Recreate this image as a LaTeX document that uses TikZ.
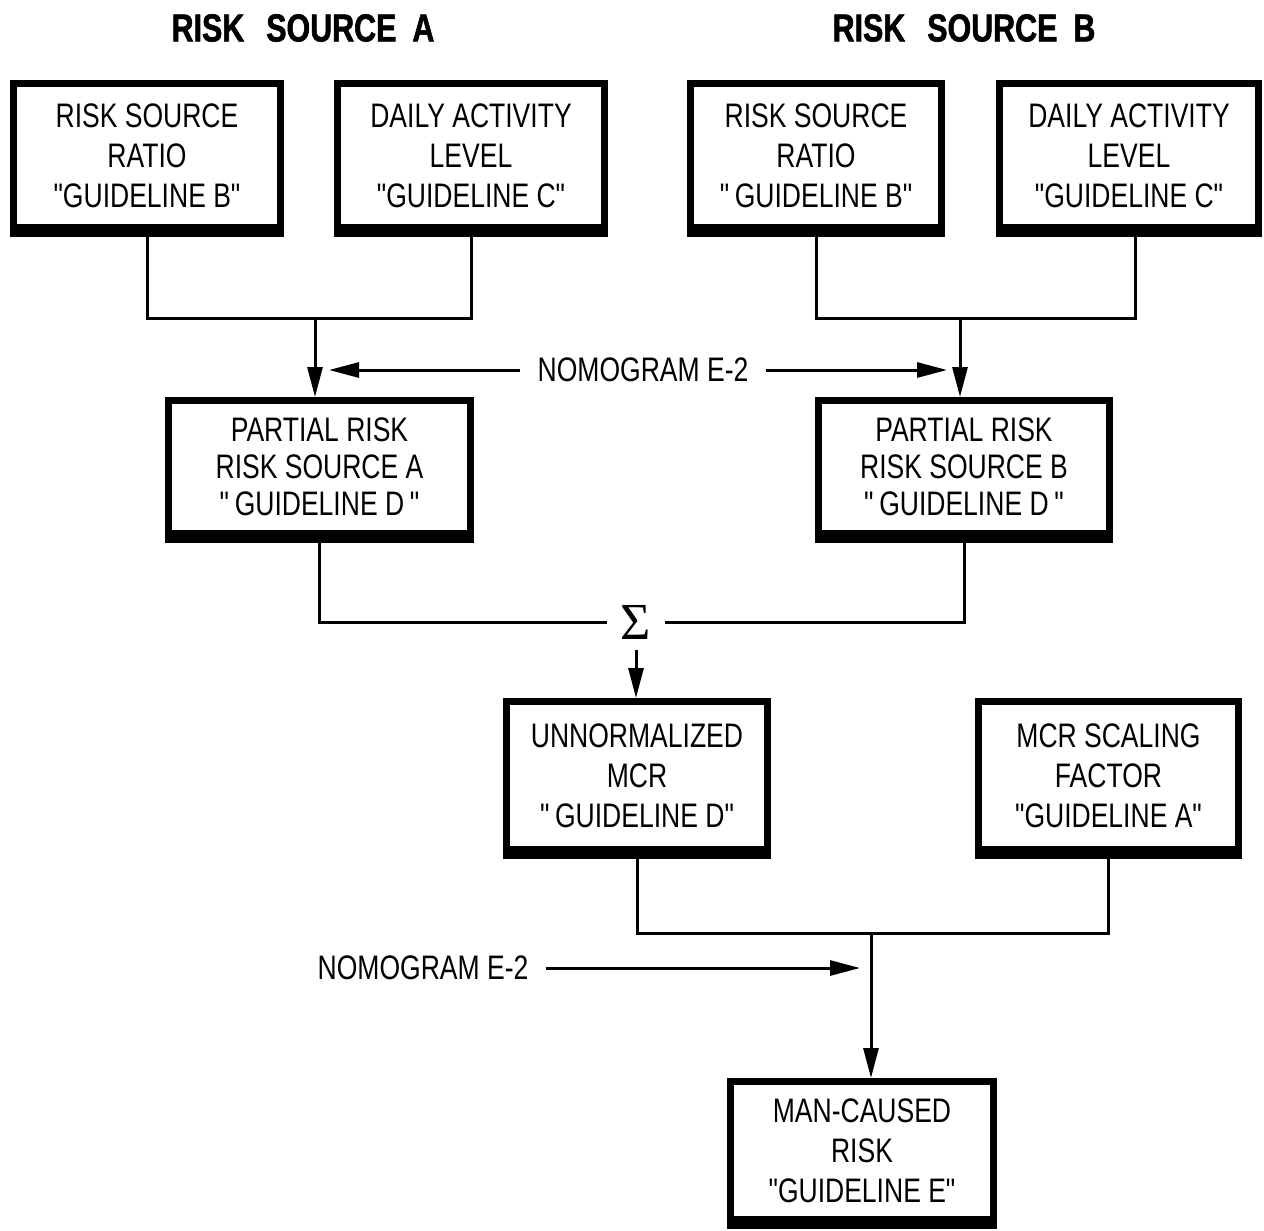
\documentclass[tikz,border=0pt]{standalone}
\usepackage{fontspec}
\newfontfamily\boxfont[FakeStretch=0.78]{Liberation Sans}
\newfontfamily\headfont[FakeStretch=0.78,FakeBold=1.5]{Liberation Sans Bold}
\newfontfamily\sigfont{Liberation Serif}
\usetikzlibrary{arrows.meta}
\begin{document}
\begin{tikzpicture}[x=1pt,y=-1pt,
  bx/.style={draw, line width=7pt, inner sep=0pt, align=center,
             font=\boxfont\fontsize{34}{40}\selectfont},
  wire/.style={line width=3pt},
  arr/.style={wire, -{Triangle[length=30pt,width=15pt]}},
  lbl/.style={font=\boxfont\fontsize{34}{40}\selectfont, inner ysep=0pt, inner xsep=17pt},
  hd/.style={font=\headfont\fontsize{39}{44}\selectfont, inner sep=0pt},
  sig/.style={font=\sigfont\fontsize{52}{52}\selectfont, inner sep=0pt,
              minimum width=58pt, minimum height=56pt}
]
\useasboundingbox (0,0) rectangle (1264,1231);

% headers
\node[hd] (hA) at (303,28) {RISK\hspace{22pt}SOURCE\hspace{16pt}A};
\node[hd] (hB) at (964,28) {RISK\hspace{22pt}SOURCE\hspace{16pt}B};

% boxes (rectangle outer edges; thick bottom bar added below)
\node[bx, minimum width=267pt, minimum height=144pt] (a1) at (147,155.5)
  {RISK SOURCE\\RATIO\\"GUIDELINE B"};
\node[bx, minimum width=267pt, minimum height=144pt] (a2) at (471,155.5)
  {DAILY ACTIVITY\\LEVEL\\"GUIDELINE C"};
\node[bx, minimum width=251pt, minimum height=144pt] (b1) at (816,155.5)
  {RISK SOURCE\\RATIO\\"\,GUIDELINE B"};
\node[bx, minimum width=259pt, minimum height=144pt] (b2) at (1129,155.5)
  {DAILY ACTIVITY\\LEVEL\\"GUIDELINE C"};
\node[bx, minimum width=302pt, minimum height=133pt, font=\boxfont\fontsize{34}{37}\selectfont] (pA) at (319.5,467)
  {PARTIAL RISK\\RISK SOURCE A\\"\,GUIDELINE D\,"};
\node[bx, minimum width=291pt, minimum height=133pt, font=\boxfont\fontsize{34}{37}\selectfont] (pB) at (964,467)
  {PARTIAL RISK\\RISK SOURCE B\\"\,GUIDELINE D\,"};
\node[bx, minimum width=261pt, minimum height=148pt] (un) at (637,775.5)
  {UNNORMALIZED\\MCR\\"\,GUIDELINE D"};
\node[bx, minimum width=260pt, minimum height=148pt] (sc) at (1108.5,775.5)
  {MCR SCALING\\FACTOR\\"GUIDELINE A"};
\node[bx, minimum width=263pt, minimum height=138pt] (mc) at (862,1150.5)
  {MAN-CAUSED\\RISK\\"GUIDELINE E"};

% thick bottom edges
\foreach \n in {a1,a2,b1,b2,pA,pB,un,sc,mc}
  \fill ([yshift=7pt]\n.south west) rectangle ([yshift=-6pt]\n.south east);

% top connectors
\coordinate (jA) at (315,318);
\coordinate (jB) at (960,318);
\draw[wire] ([yshift=-6pt]a1.south) |- (jA) -| ([yshift=-6pt]a2.south);
\draw[arr] (jA) -- (jA |- pA.north);
\draw[wire] ([yshift=-6pt]b1.south) |- (jB) -| ([xshift=6pt,yshift=-6pt]b2.south);
\draw[arr] (jB) -- (jB |- pB.north);

% nomogram (top)
\node[lbl] (nom1) at (643,370) {NOMOGRAM E-2};
\coordinate (tA) at (329,370);
\coordinate (tB) at (947,370);
\draw[arr] (nom1.west) -- (tA);
\draw[arr] (nom1.east) -- (tB);

% sum
\node[sig] (sg) at (636,622) {Σ};
\draw[wire] ([yshift=-6pt]pA.south) |- (sg.west);
\draw[wire] ([yshift=-6pt]pB.south) |- (sg.east);
\draw[arr] (sg.south) -- (sg.south |- un.north);

% bottom connectors
\coordinate (jM) at (871,933);
\draw[wire] ([yshift=-6pt]un.south) |- (jM) -| ([yshift=-6pt]sc.south);
\draw[arr] (jM) -- (jM |- mc.north);

\node[lbl] (nom2) at (423,968) {NOMOGRAM E-2};
\coordinate (tM) at (860,968);
\draw[arr] (nom2.east) -- (tM);
\end{tikzpicture}
\end{document}
